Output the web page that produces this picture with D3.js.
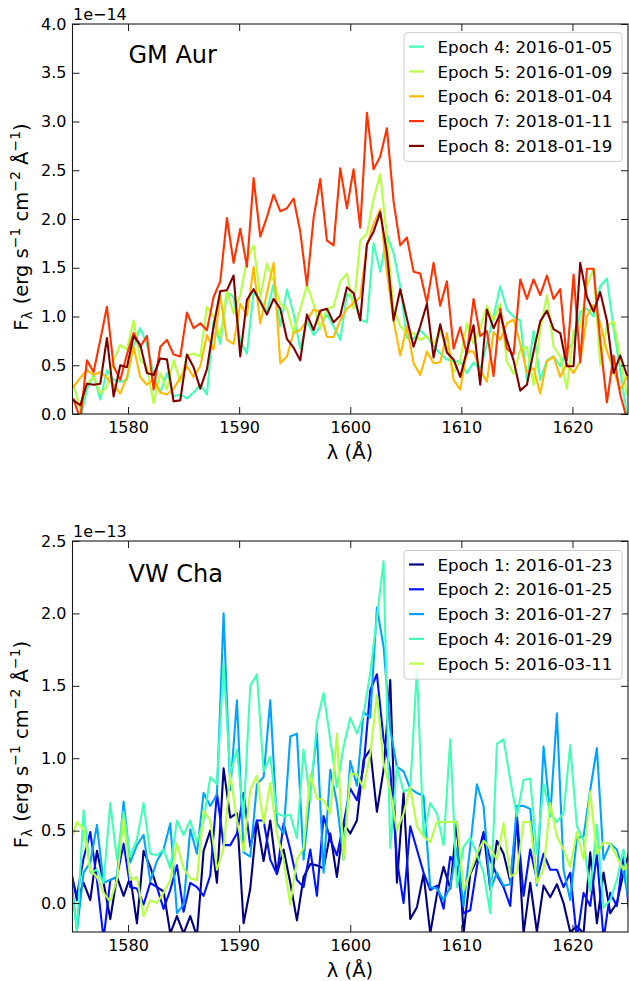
<!DOCTYPE html>
<html>
<head>
<meta charset="utf-8">
<script src="https://cdn.jsdelivr.net/npm/d3@7"></script>
<style>
  body { margin: 0; background: #fff; }
  svg { display: block; }
  text { font-family: "DejaVu Sans", sans-serif; }
</style>
</head>
<body>
<svg id="chart" width="629" height="981"></svg>
<script>
// ---------------- data ----------------
const xDomain = [1575, 1625];
const xTickValues = [1580, 1590, 1600, 1610, 1620];
const gmYTicks = [0.0, 0.5, 1.0, 1.5, 2.0, 2.5, 3.0, 3.5, 4.0];
const vwYTicks = [0.0, 0.5, 1.0, 1.5, 2.0, 2.5];
const binStep = 0.6;          // wavelength bin (Å)
const gmStart = 1575.1;       // first bin, GM Aur
const vwStart = 1574.8;       // first bin, VW Cha

const gmNames = ["Epoch 4: 2016-01-05", "Epoch 5: 2016-01-09", "Epoch 6: 2018-01-04", "Epoch 7: 2018-01-11", "Epoch 8: 2018-01-19"];
const gmColors = ["#41ffb6", "#b6ff41", "#ffb900", "#ff3200", "#800000"];
const vwNames = ["Epoch 1: 2016-01-23", "Epoch 2: 2016-01-25", "Epoch 3: 2016-01-27", "Epoch 4: 2016-01-29", "Epoch 5: 2016-03-11"];
const vwColors = ["#000080", "#0012ff", "#00a4ff", "#41ffb6", "#b6ff41"];

// GM Aur fluxes (units of 1e-14)
const gmE4 = [0.00,-0.05,0.25,0.40,0.15,0.45,0.35,0.33,0.35,0.70,
  0.88,0.72,0.40,0.22,0.42,0.18,0.20,0.16,0.22,0.30,
  0.20,0.95,0.72,1.25,1.20,0.75,0.62,1.25,1.17,1.05,
  1.33,0.90,1.28,1.03,0.67,0.96,0.81,0.90,1.02,0.90,
  0.76,1.23,1.18,0.97,0.94,1.75,1.46,1.84,1.65,1.31,
  0.78,0.77,0.86,0.79,0.70,0.62,0.56,0.54,0.54,0.42,
  0.53,0.45,0.72,1.00,1.31,1.07,1.00,0.96,0.35,0.85,
  0.35,0.55,0.59,0.49,0.66,0.73,1.05,1.08,1.00,1.31,
  1.39,0.88,0.45,0.00,-0.10];
const gmE5 = [0.30,0.05,0.31,0.38,0.21,0.28,0.55,0.71,0.66,0.96,
  0.55,0.49,0.11,0.42,0.25,0.55,0.33,0.60,0.62,0.59,
  1.10,1.00,0.79,1.27,1.03,1.22,1.58,1.73,1.20,1.54,
  1.37,1.13,1.08,0.83,1.08,1.32,1.13,0.88,1.08,1.10,
  1.36,1.44,1.08,1.78,1.85,2.21,2.46,1.82,1.08,0.90,
  0.83,0.83,0.76,0.80,0.72,0.85,0.69,0.43,0.55,0.93,
  0.72,0.88,1.11,0.96,1.13,0.54,0.41,0.66,0.69,0.30,
  0.86,1.22,0.69,0.59,0.26,0.86,0.89,1.31,1.49,0.50,
  0.90,0.95,0.59,0.21,0.15];
const gmE6 = [0.28,0.37,0.45,0.40,0.43,0.37,0.30,0.21,0.38,0.69,
  0.38,0.30,0.36,0.22,0.20,0.26,0.37,0.49,0.38,0.49,
  0.81,0.66,1.22,0.76,0.72,1.13,1.01,1.51,0.93,1.24,
  1.55,0.52,0.59,0.83,0.86,0.96,1.07,1.05,0.79,0.79,
  0.96,1.08,1.14,1.20,1.73,1.95,2.10,1.45,0.96,0.60,
  0.90,0.52,0.40,0.64,0.52,0.53,0.83,0.35,0.25,0.64,
  0.64,0.45,0.33,0.84,0.76,0.93,0.97,0.72,0.43,0.47,
  0.21,0.54,0.59,0.38,0.52,0.42,0.54,1.00,1.12,0.93,
  0.65,0.45,0.25,0.38,0.30];
const gmE7 = [0.15,-0.05,0.55,0.43,0.76,1.10,0.49,0.35,0.61,0.83,
  0.69,0.80,0.25,0.69,0.76,0.61,0.59,1.04,0.88,0.93,
  0.86,1.20,1.36,2.01,1.55,1.90,1.51,2.42,1.82,2.02,
  2.25,2.08,2.11,2.21,1.87,1.32,2.01,2.41,1.78,1.73,
  2.52,2.11,2.51,1.91,3.09,2.51,2.64,2.93,2.18,1.73,
  1.81,1.46,1.44,1.14,1.55,1.11,1.36,0.67,0.89,0.61,
  1.18,0.80,0.85,0.39,1.08,0.67,0.61,1.38,1.18,1.38,
  1.22,1.42,1.18,1.28,0.55,1.43,0.53,1.49,1.49,0.75,
  0.12,0.60,0.20,-0.05,-0.10];
const gmE8 = [0.14,0.09,0.31,0.30,0.31,0.78,0.18,0.50,0.48,0.80,
  0.71,0.42,0.40,0.57,0.56,0.13,0.14,0.61,0.48,0.26,
  0.46,0.90,1.26,1.27,1.42,0.59,1.17,1.28,1.15,1.02,
  1.18,1.08,0.77,0.68,0.55,1.02,0.86,1.06,1.08,0.94,
  1.01,1.30,1.24,0.96,1.74,1.87,2.07,1.65,0.96,1.28,
  0.98,0.69,0.90,1.13,0.58,0.92,0.63,0.56,0.38,0.65,
  0.91,0.30,1.07,0.88,1.03,0.76,0.55,0.24,0.30,0.64,
  0.95,1.06,0.87,0.83,0.49,0.49,1.55,1.20,1.05,1.25,
  0.96,0.42,0.60,0.40,0.38];

// VW Cha fluxes (units of 1e-13)
const vwE1 = [0.25,0.02,0.14,0.02,0.36,0.14,-0.11,0.18,0.05,0.18,
  -0.14,0.36,0.25,0.11,0.08,-0.21,-0.09,-0.21,-0.09,-0.23,
  0.36,0.50,0.14,0.93,0.59,0.62,-0.14,0.10,0.57,0.29,
  0.57,0.20,0.37,0.14,-0.12,0.18,0.27,0.26,0.24,0.48,
  0.18,0.55,0.48,0.57,0.99,1.06,0.63,0.92,1.54,0.14,
  0.76,-0.11,-0.03,0.20,-0.21,0.06,0.25,0.10,0.56,-0.21,
  0.20,0.30,0.49,0.10,0.43,0.34,0.15,0.58,-0.21,0.14,
  -0.20,0.12,0.04,0.13,0.00,-0.20,-0.16,-0.21,0.35,-0.14,
  0.21,-0.07,0.00,0.21,0.38];
const vwE2 = [0.21,0.05,0.31,0.49,0.16,-0.25,0.16,0.18,0.41,0.11,
  0.10,-0.01,0.14,0.11,-0.04,0.09,0.26,-0.06,0.14,0.11,
  0.05,0.19,0.76,0.40,0.40,0.48,0.76,0.39,0.57,0.57,
  0.30,0.20,0.55,0.37,0.16,0.11,0.37,0.05,0.60,0.44,
  0.33,0.55,0.79,0.71,0.94,1.47,1.58,1.13,0.92,0.30,
  0.00,0.53,0.37,0.21,0.09,0.12,-0.04,0.32,0.25,-0.07,
  -0.05,0.25,0.48,0.30,0.19,0.11,-0.02,0.60,0.05,0.37,
  0.16,0.34,0.23,0.23,0.11,0.21,-0.25,0.07,-0.02,0.34,
  -0.25,0.07,-0.02,0.34,-0.14];
const vwE3 = [0.23,-0.19,0.21,0.28,0.54,0.14,0.16,0.18,0.70,0.28,
  0.40,0.47,0.15,0.29,0.37,0.55,-0.07,-0.01,0.51,0.34,
  0.76,0.67,0.75,2.00,0.78,1.40,0.35,0.32,0.82,0.87,
  1.40,0.55,0.48,1.15,1.17,0.30,0.76,1.17,0.21,0.92,
  0.69,0.30,0.98,0.81,1.32,1.28,2.04,1.77,1.20,0.94,
  0.91,0.79,0.76,0.74,0.11,0.10,0.02,0.11,0.38,-0.02,
  0.39,0.82,0.67,0.09,0.21,0.12,0.13,0.67,0.67,0.65,
  0.12,1.08,0.60,1.31,0.23,0.02,0.45,0.46,0.78,1.07,
  0.30,0.41,0.37,0.21,-0.04];
const vwE4 = [0.20,-0.19,0.64,0.21,0.23,0.14,0.69,0.30,0.63,0.32,
  0.44,0.69,0.34,0.33,0.37,0.24,0.57,0.47,0.57,0.42,
  0.57,0.87,0.82,1.65,0.89,1.06,0.59,1.50,1.58,0.91,
  1.01,0.62,0.60,0.61,0.45,1.06,0.71,1.25,1.45,1.13,
  0.80,1.08,1.28,1.17,1.30,1.59,1.97,2.36,0.38,0.94,
  0.77,0.79,1.61,0.46,0.69,0.62,0.40,1.13,0.11,0.39,
  0.45,0.34,0.21,-0.07,1.10,1.13,0.85,0.60,0.85,0.86,
  0.34,0.82,0.62,0.56,0.62,1.09,0.53,0.43,0.08,0.54,
  -0.03,0.02,0.16,0.37,-0.05];
const vwE5 = [0.42,0.56,0.51,0.23,0.18,0.07,0.01,0.16,0.58,0.16,
  0.18,-0.09,0.02,0.00,0.07,0.16,0.41,0.24,0.17,0.16,
  0.64,0.57,0.23,0.38,0.89,0.57,0.36,0.78,0.88,0.55,
  0.83,0.48,0.30,-0.01,0.30,0.38,0.89,0.72,0.71,0.62,
  1.17,0.30,0.89,0.89,0.79,1.03,1.44,0.96,0.78,0.50,
  0.62,0.80,0.53,0.46,0.42,0.56,0.56,0.56,0.56,0.09,
  0.21,0.34,0.43,0.38,0.30,0.55,0.18,0.21,0.56,0.56,
  0.14,0.23,0.69,0.46,0.37,0.25,0.49,0.30,0.77,0.34,
  0.42,0.41,0.32,0.23,0.30];

// ---------------- drawing ----------------
const svg = d3.select("#chart");
const defs = svg.append("defs");
const FONT = "DejaVu Sans";
const INK = "#1a1a1a";

function drawPanel(cfg) {
  const x = d3.scaleLinear().domain(xDomain).range([72.5, 628]);
  const y = d3.scaleLinear().domain(cfg.yDomain).range([cfg.bottom, cfg.top]);
  const g = svg.append("g");

  const clipId = "clip-" + cfg.id;
  defs.append("clipPath").attr("id", clipId).append("rect")
    .attr("x", 72.5).attr("y", cfg.top).attr("width", 628 - 72.5).attr("height", cfg.bottom - cfg.top);

  const line = d3.line().x(d => x(d[0])).y(d => y(d[1]));
  const lines = g.append("g").attr("clip-path", `url(#${clipId})`);
  cfg.series.forEach((vals, i) => {
    const data = vals.map((v, k) => [cfg.start + binStep * k, v]);
    lines.append("path")
      .attr("d", line(data))
      .attr("fill", "none")
      .attr("stroke", cfg.colors[i])
      .attr("stroke-width", 2.1)
      .attr("stroke-linejoin", "round")
      .attr("stroke-linecap", "square");
  });

  // axes (inward ticks on all four sides)
  const styleAxis = sel => {
    sel.select(".domain").remove();
    sel.selectAll(".tick line").attr("stroke", INK).attr("stroke-width", 1);
    sel.selectAll(".tick text").attr("fill", "#000").attr("font-size", "16px").attr("font-family", FONT);
  };
  g.append("g").attr("transform", `translate(0,${cfg.bottom})`)
    .call(d3.axisBottom(x).tickValues(xTickValues).tickFormat(d3.format("d")).tickSize(-7).tickSizeOuter(0).tickPadding(7.5))
    .call(styleAxis);
  g.append("g").attr("transform", `translate(0,${cfg.top})`)
    .call(d3.axisTop(x).tickValues(xTickValues).tickFormat("").tickSize(-7).tickSizeOuter(0))
    .call(styleAxis);
  g.append("g").attr("transform", `translate(72.5,0)`)
    .call(d3.axisLeft(y).tickValues(cfg.yTicks).tickFormat(d3.format(".1f")).tickSize(-7).tickSizeOuter(0).tickPadding(6))
    .call(styleAxis);
  g.append("g").attr("transform", `translate(628,0)`)
    .call(d3.axisRight(y).tickValues(cfg.yTicks).tickFormat("").tickSize(-7).tickSizeOuter(0))
    .call(styleAxis);

  // spines
  g.append("rect").attr("x", 72.5).attr("y", cfg.top).attr("width", 628 - 72.5).attr("height", cfg.bottom - cfg.top)
    .attr("fill", "none").attr("stroke", INK).attr("stroke-width", 1.1);

  // offset text
  g.append("text").attr("x", 73).attr("y", cfg.top - 4).attr("font-size", "16px").text(cfg.offset);

  // object name
  g.append("text").attr("x", 128.5).attr("y", cfg.top + cfg.titleDy).attr("font-size", "24px").text(cfg.title);

  // x label
  g.append("text").attr("x", 350).attr("y", cfg.bottom + 45).attr("text-anchor", "middle")
    .attr("font-size", "19.5px").text("λ (Å)");

  // y label
  const yl = g.append("text")
    .attr("transform", `translate(28,${(cfg.top + cfg.bottom) / 2 + 8}) rotate(-90)`)
    .attr("text-anchor", "middle").attr("font-size", "19.5px");
  yl.append("tspan").text("F");
  yl.append("tspan").attr("font-size", "13.5px").attr("dy", 4).text("λ");
  yl.append("tspan").attr("dy", -4).attr("dx", 1).text(" (erg s");
  yl.append("tspan").attr("font-size", "14px").attr("dy", -8).text("−1");
  yl.append("tspan").attr("dy", 8).text(" cm");
  yl.append("tspan").attr("font-size", "14px").attr("dy", -8).text("−2");
  yl.append("tspan").attr("dy", 8).text(" Å");
  yl.append("tspan").attr("font-size", "14px").attr("dy", -8).text("−1");
  yl.append("tspan").attr("dy", 8).text(")");

  // legend
  const lg = g.append("g");
  const rowH = 24.8;
  const ly0 = cfg.legendTop;
  lg.append("rect").attr("x", 404).attr("y", ly0).attr("width", 218).attr("height", 14 + rowH * 4 + 15.5)
    .attr("rx", 3).attr("fill", "#fff").attr("fill-opacity", 0.8).attr("stroke", "#cccccc").attr("stroke-width", 1);
  cfg.names.forEach((name, i) => {
    const cy = ly0 + 14 + rowH * i;
    lg.append("line").attr("x1", 409).attr("x2", 424).attr("y1", cy).attr("y2", cy)
      .attr("stroke", cfg.colors[i]).attr("stroke-width", 2.2);
    lg.append("text").attr("x", 437.5).attr("y", cy).attr("dy", "0.36em").attr("font-size", "16.7px").text(name);
  });
}

drawPanel({
  id: "gm", top: 24, bottom: 414, yDomain: [0, 4.0], yTicks: gmYTicks,
  series: [gmE4, gmE5, gmE6, gmE7, gmE8], colors: gmColors, names: gmNames,
  start: gmStart, offset: "1e−14", title: "GM Aur", titleDy: 39, legendTop: 32.7
});
drawPanel({
  id: "vw", top: 541, bottom: 932, yDomain: [-0.2, 2.5], yTicks: vwYTicks,
  series: [vwE1, vwE2, vwE3, vwE4, vwE5], colors: vwColors, names: vwNames,
  start: vwStart, offset: "1e−13", title: "VW Cha", titleDy: 41, legendTop: 550.5
});
</script>
</body>
</html>
